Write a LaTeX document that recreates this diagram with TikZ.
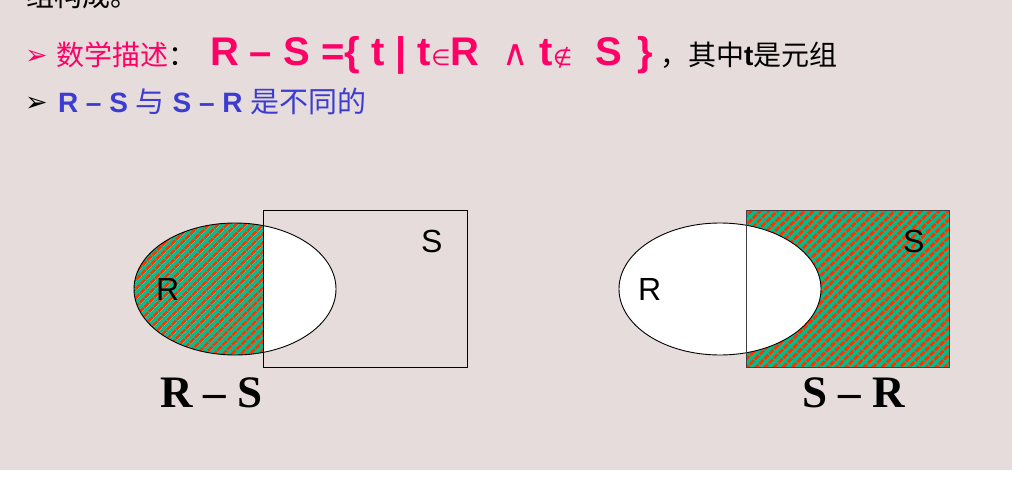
\documentclass[tikz,border=0pt]{standalone}
\usepackage{fontspec}
\setmainfont{Liberation Sans}
\newfontfamily\cjk{Noto Sans CJK SC}
\newfontfamily\dv{DejaVu Sans}
\newfontfamily\tms{Liberation Serif}
\usetikzlibrary{patterns.meta}
\definecolor{bgc}{RGB}{229,220,219}
\definecolor{pinkc}{RGB}{255,0,102}
\definecolor{bluec}{RGB}{60,60,210}
\definecolor{tealc}{RGB}{0,190,140}
\definecolor{redc}{RGB}{255,50,0}
\tikzset{
  txt/.style={inner sep=0pt, outer sep=0pt, anchor=base west},
  hatch/.style={fill=tealc},
  stripes/.style={pattern={Lines[angle=45,distance=6.5pt,line width=3.2pt]}, pattern color=redc},
  outline/.style={draw=black, line width=0.9pt},
  lbl/.style={inner sep=0pt, anchor=base west, font=\fontsize{32}{34}\selectfont},
  captxt/.style={inner sep=0pt, anchor=base west, font=\tms\bfseries\fontsize{45}{47}\selectfont},
}
\newcommand{\smsym}[1]{{\dv\mdseries\fontsize{22}{24}\selectfont #1}}
\begin{document}
\begin{tikzpicture}[x=1pt,y=-1pt]
\useasboundingbox (0,0) rectangle (1012,484);
\fill[bgc] (0,0) rectangle (1012,470);
\fill[white] (0,470) rectangle (1012,484);
% text lines
\node[txt] (l0) at (27,7) {\cjk\fontsize{28}{30}\selectfont 组构成。};
\node[txt, text=pinkc] (b1) at (25,65) {\dv\fontsize{27}{29}\selectfont ➢};
\node[txt, text=pinkc] (l1a) at (56,66) {\cjk\fontsize{28}{30}\selectfont 数学描述\textcolor{black}{：}};
\node[txt, text=pinkc] (l1b) at (210,66) {\bfseries\fontsize{40}{42}\selectfont R – S =\{ t | t\smsym{∈}R \hspace{12pt}{\dv\mdseries\fontsize{36}{36}\selectfont ∧} t\smsym{∉}\hspace{12pt} S \hspace{4pt}\}};
\node[txt] (l1c) at (660,66) {\cjk\fontsize{28}{30}\selectfont ，其中{\rmfamily\bfseries t}是元组};
\node[txt] (b2) at (25,112) {\dv\fontsize{27}{29}\selectfont ➢};
\node[txt, text=bluec] (l2) at (58,113) {\bfseries\fontsize{28}{30}\selectfont R – S {\cjk\mdseries\fontsize{29}{30}\selectfont 与} S – R {\cjk\mdseries\fontsize{29}{30}\selectfont 是不同的}};
% left diagram: R - S
\begin{scope}
  \clip (0,0) rectangle (263,484);
  \fill[hatch] (235,289) ellipse [x radius=101pt, y radius=66pt];
  \fill[stripes] (235,289) ellipse [x radius=101pt, y radius=66pt];
\end{scope}
\begin{scope}
  \clip (263,0) rectangle (1012,484);
  \fill[white] (235,289) ellipse [x radius=101pt, y radius=66pt];
\end{scope}
\draw[outline] (235,289) ellipse [x radius=101pt, y radius=66pt];
\draw[outline] (263,210) rectangle (467,367);
\node[lbl] (r1) at (156,300) {R};
\node[lbl] (s1) at (421,252) {S};
\node[captxt] (c1) at (160,407) {R – S};
% right diagram: S - R
\fill[hatch] (746,210) rectangle (949,367);
\fill[stripes] (746,210) rectangle (949,367);
\draw[outline, draw=black!75] (746,210) rectangle (949,367);
\fill[white] (720,289) ellipse [x radius=101pt, y radius=66pt];
\draw[outline] (720,289) ellipse [x radius=101pt, y radius=66pt];
\draw[outline, draw=black!75] (746,210) -- (746,367);
\node[lbl] (r2) at (638,300) {R};
\node[lbl] (s2) at (903,252) {S};
\node[captxt] (c2) at (802,407) {S – R};
\end{tikzpicture}
\end{document}
